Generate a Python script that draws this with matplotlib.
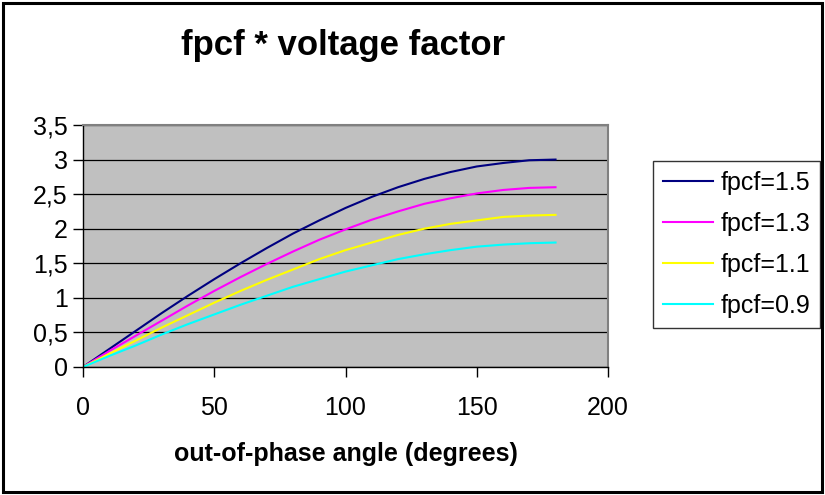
import numpy as np
import matplotlib
matplotlib.use("Agg")
import matplotlib.pyplot as plt
from matplotlib.ticker import FuncFormatter
from matplotlib.patches import Rectangle

plt.rcParams['font.family'] = ['Liberation Sans', 'DejaVu Sans']

# angles (degrees) and values
angle = [0, 10, 20, 30, 40, 50, 60, 70, 80, 90, 100, 110, 120, 130, 140, 150, 160, 170, 180]
f15 = [0, 0.26, 0.52, 0.78, 1.03, 1.27, 1.50, 1.72, 1.93, 2.12, 2.30, 2.46, 2.60, 2.72, 2.82, 2.90, 2.95, 2.99, 3.00]
f13 = [0, 0.23, 0.45, 0.67, 0.89, 1.10, 1.30, 1.49, 1.67, 1.84, 1.99, 2.13, 2.25, 2.36, 2.44, 2.51, 2.56, 2.59, 2.60]
f11 = [0, 0.19, 0.38, 0.57, 0.75, 0.93, 1.10, 1.26, 1.41, 1.56, 1.69, 1.80, 1.91, 2.00, 2.07, 2.12, 2.17, 2.19, 2.20]
f09 = [0, 0.16, 0.31, 0.47, 0.62, 0.76, 0.90, 1.03, 1.16, 1.27, 1.38, 1.47, 1.56, 1.63, 1.69, 1.74, 1.77, 1.79, 1.80]
labels = ['fpcf=1.5', 'fpcf=1.3', 'fpcf=1.1', 'fpcf=0.9']
colors = ['#000080', '#ff00ff', '#ffff00', '#00ffff']

fig = plt.figure(figsize=(8.25, 4.95), dpi=100)
fig.patches.append(Rectangle((0.004, 0.006), 0.992, 0.988, transform=fig.transFigure,
                             fill=False, edgecolor='black', linewidth=2.2))

ax = fig.add_axes([0.1006, 0.2586, 0.6364, 0.4889])
ax.set_facecolor('#c0c0c0')

for ys, lab, c in zip([f15, f13, f11, f09], labels, colors):
    ax.plot(angle, ys, color=c, linewidth=1.5, label=lab)

ax.set_xlim(0, 200)
ax.set_ylim(0, 3.5)
ax.set_xticks(np.arange(0, 201, 50))
ax.set_yticks(np.arange(0, 3.51, 0.5))
ax.yaxis.set_major_formatter(FuncFormatter(lambda v, p: ('%g' % v).replace('.', ',')))
ax.grid(axis='y', color='black', linewidth=0.9)
ax.set_axisbelow(True)
for s in ['top', 'right']:
    ax.spines[s].set_color('#808080')
    ax.spines[s].set_linewidth(1.5)
for s in ['left', 'bottom']:
    ax.spines[s].set_color('black')
    ax.spines[s].set_linewidth(1.0)
ax.tick_params(axis='both', labelsize=18, length=7, width=1, direction='out', colors='black')
ax.tick_params(axis='x', pad=14)
ax.tick_params(axis='y', pad=4)

ax.set_xlabel('out-of-phase angle (degrees)', fontsize=18, fontweight='bold', labelpad=16)
fig.text(0.416, 0.908, 'fpcf * voltage factor', ha='center', va='center',
         fontsize=25, fontweight='bold')

leg = ax.legend(loc='upper left', bbox_to_anchor=(653 / 825, 1 - 161 / 495),
                bbox_transform=fig.transFigure, fontsize=18,
                frameon=True, fancybox=False, edgecolor='black', facecolor='white',
                handlelength=2.0, handletextpad=0.3, labelspacing=0.68,
                borderpad=0.4, borderaxespad=0)
leg.get_frame().set_linewidth(1.0)

fig.savefig('out.png', dpi=100)
